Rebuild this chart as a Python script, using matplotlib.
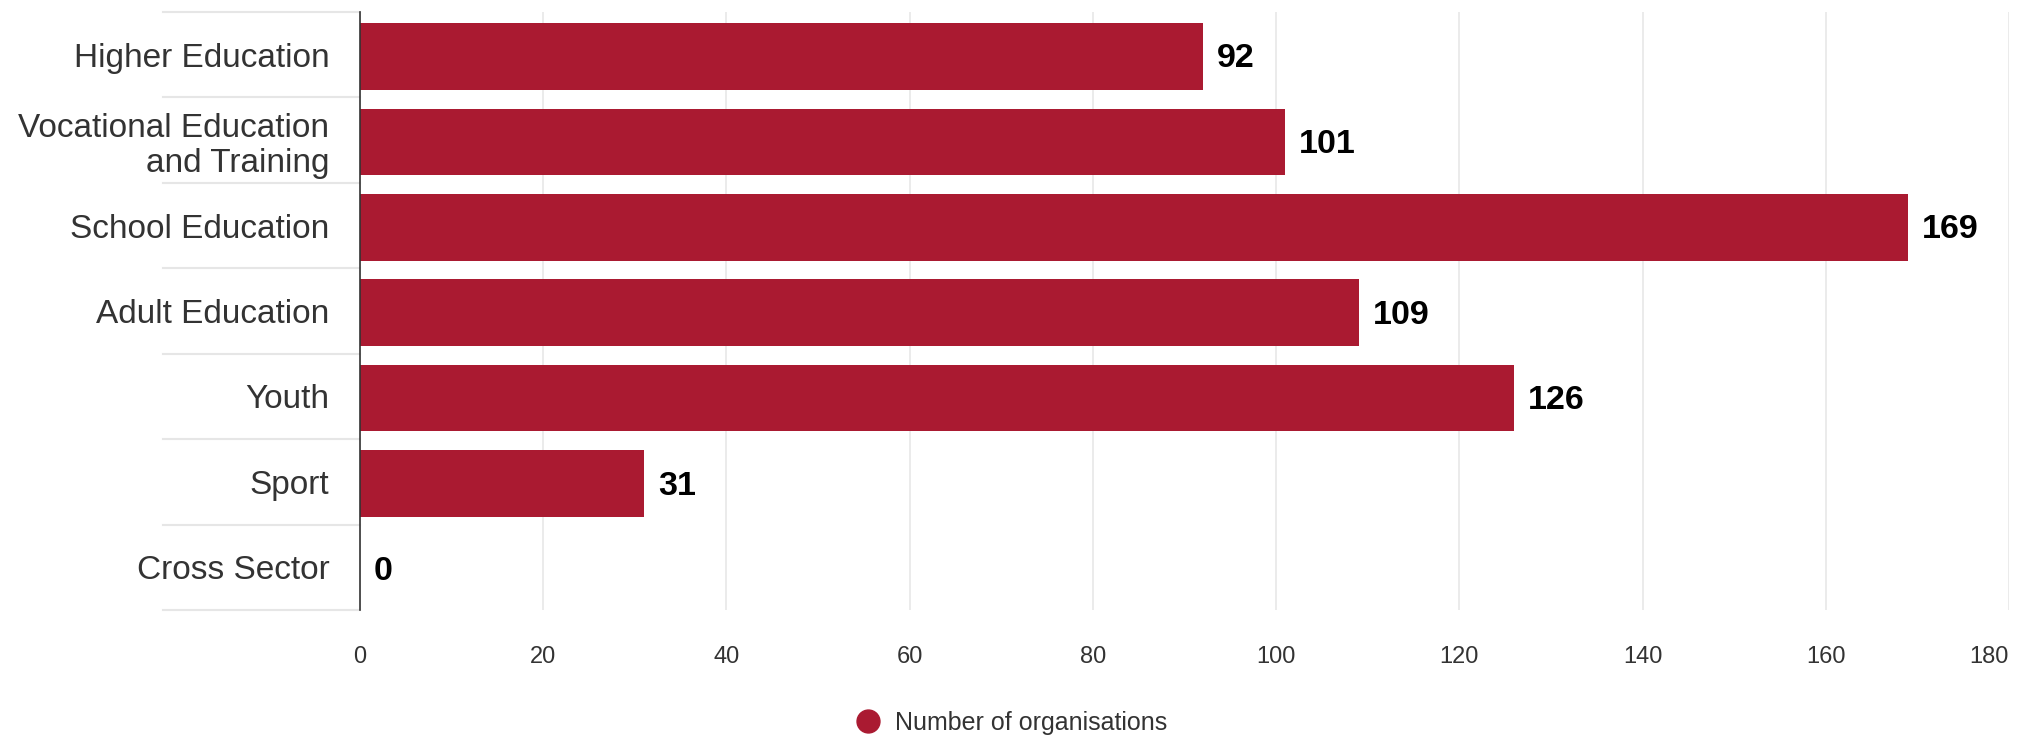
import numpy as np
import matplotlib.pyplot as plt
from matplotlib.lines import Line2D

categories = ["Higher Education", "Vocational Education\nand Training", "School Education",
              "Adult Education", "Youth", "Sport", "Cross Sector"]
organisations = [92, 101, 169, 109, 126, 31, 0]
x_ticks = [0, 20, 40, 60, 80, 100, 120, 140, 160, 180]
series_name = "Number of organisations"

bar_color = "#aa1a31"
text_color = "#333333"
grid_color = "#e6e6e6"

plt.rcParams["font.family"] = ["Liberation Sans", "DejaVu Sans"]

fig = plt.figure(figsize=(20.36, 7.41), dpi=100)
ax = fig.add_axes([360 / 2036, 1 - 610 / 741, (2009 - 360) / 2036, 598 / 741])

y = np.arange(len(categories))
ax.barh(y + 0.02, organisations, height=0.78, color=bar_color, zorder=3)

# value labels at the end of each bar
for yi, v in zip(y, organisations):
    ax.annotate(str(v), (v, yi), xytext=(10, -3), textcoords="offset points",
                ha="left", va="center", fontsize=24.5, fontweight="bold", color="black")

ax.set_xlim(0, 180)
ax.set_ylim(len(categories) - 0.5, -0.5)
ax.set_xticks(x_ticks)
ax.set_xticklabels([str(t) for t in x_ticks])
ax.set_yticks(y)
ax.set_yticklabels(categories, ha="right")

ax.tick_params(axis="x", length=0, pad=26, labelsize=17, labelcolor=text_color)
ax.tick_params(axis="y", length=0, pad=22, labelsize=24, labelcolor=text_color)
ax.get_xticklabels()[-1].set_horizontalalignment("right")

ax.grid(axis="x", color=grid_color, linewidth=1.1, zorder=0)
ax.grid(axis="y", visible=False)
for s in ["top", "right", "bottom"]:
    ax.spines[s].set_visible(False)
ax.spines["left"].set_color(text_color)
ax.spines["left"].set_linewidth(1.2)
ax.spines["left"].set_zorder(4)

# category separator lines in the label area
trans = ax.get_yaxis_transform()
for b in np.arange(-0.5, len(categories), 1.0):
    ax.plot([-0.1195, 0], [b, b], transform=trans, color=grid_color,
            linewidth=1.5, clip_on=False, zorder=1)

handle = Line2D([], [], marker="o", linestyle="none", markersize=16.5,
                markerfacecolor=bar_color, markeredgecolor=bar_color)
fig.legend([handle], [series_name], loc="center", bbox_to_anchor=(0.4958, 0.0243),
           frameon=False, fontsize=18, labelcolor=text_color,
           handlelength=1.3, handletextpad=0.4)

fig.savefig("out.png", dpi=100)
